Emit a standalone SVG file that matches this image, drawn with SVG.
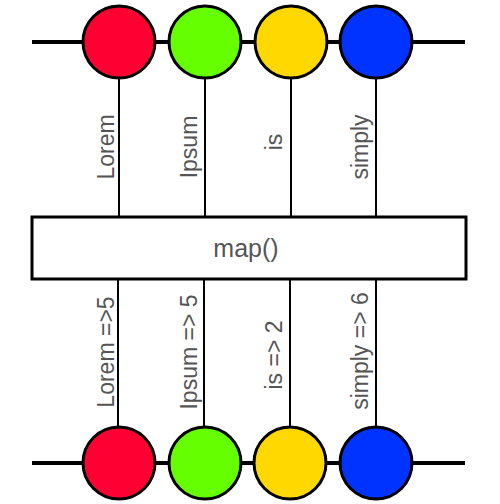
<svg xmlns="http://www.w3.org/2000/svg" width="500" height="504" viewBox="0 0 500 504">
<style>
.axis{stroke:#000;stroke-width:4;fill:none;stroke-linecap:butt}
.stem{stroke:#000;stroke-width:2;fill:none}
.marble{stroke:#000;stroke-width:3}
.box{fill:#fff;stroke:#000;stroke-width:3}
.lbl{font-family:"Liberation Sans","DejaVu Sans",sans-serif;font-size:23px;fill:#555;text-anchor:middle}
.op{font-size:25px}
</style>
<rect width="500" height="504" fill="#fff"/>
<g id="connectors">
<line class="axis" x1="32" y1="42" x2="465" y2="42"/>
<line class="axis" x1="32" y1="463" x2="465" y2="463"/>
<line class="stem" x1="119" y1="78" x2="119" y2="217"/>
<line class="stem" x1="205" y1="78" x2="205" y2="217"/>
<line class="stem" x1="291" y1="78" x2="291" y2="217"/>
<line class="stem" x1="376" y1="78" x2="376" y2="217"/>
<line class="stem" x1="118" y1="279" x2="118" y2="427"/>
<line class="stem" x1="204" y1="279" x2="204" y2="427"/>
<line class="stem" x1="290" y1="279" x2="290" y2="427"/>
<line class="stem" x1="376" y1="279" x2="376" y2="427"/>
<text class="lbl" transform="translate(114,147) rotate(-90)">Lorem</text>
<text class="lbl" transform="translate(197,147) rotate(-90)">Ipsum</text>
<text class="lbl" transform="translate(282,142) rotate(-90)">is</text>
<text class="lbl" transform="translate(368,147) rotate(-90)">simply</text>
<text class="lbl" transform="translate(114,352) rotate(-90)">Lorem =&gt;5</text>
<text class="lbl" transform="translate(197,352) rotate(-90)">Ipsum =&gt; 5</text>
<text class="lbl" transform="translate(282,355) rotate(-90)">is =&gt; 2</text>
<text class="lbl" transform="translate(368,351) rotate(-90)">simply =&gt; 6</text>
</g>
<g id="in-red"><circle class="marble" cx="119" cy="42" r="36" fill="#ff0033"/></g>
<g id="in-green"><circle class="marble" cx="205" cy="42" r="36" fill="#66ff00"/></g>
<g id="in-yellow"><circle class="marble" cx="291" cy="42" r="36" fill="#ffd800"/></g>
<g id="in-blue"><circle class="marble" cx="376" cy="42" r="36" fill="#0033ff"/></g>
<g id="map-box">
<rect class="box" x="32" y="217" width="434" height="62"/>
<text class="lbl op" x="246" y="257">map()</text>
</g>
<g id="out-red"><circle class="marble" cx="119" cy="463" r="36" fill="#ff0033"/></g>
<g id="out-green"><circle class="marble" cx="205" cy="463" r="36" fill="#66ff00"/></g>
<g id="out-yellow"><circle class="marble" cx="290" cy="463" r="36" fill="#ffd800"/></g>
<g id="out-blue"><circle class="marble" cx="376" cy="463" r="36" fill="#0033ff"/></g>
</svg>
